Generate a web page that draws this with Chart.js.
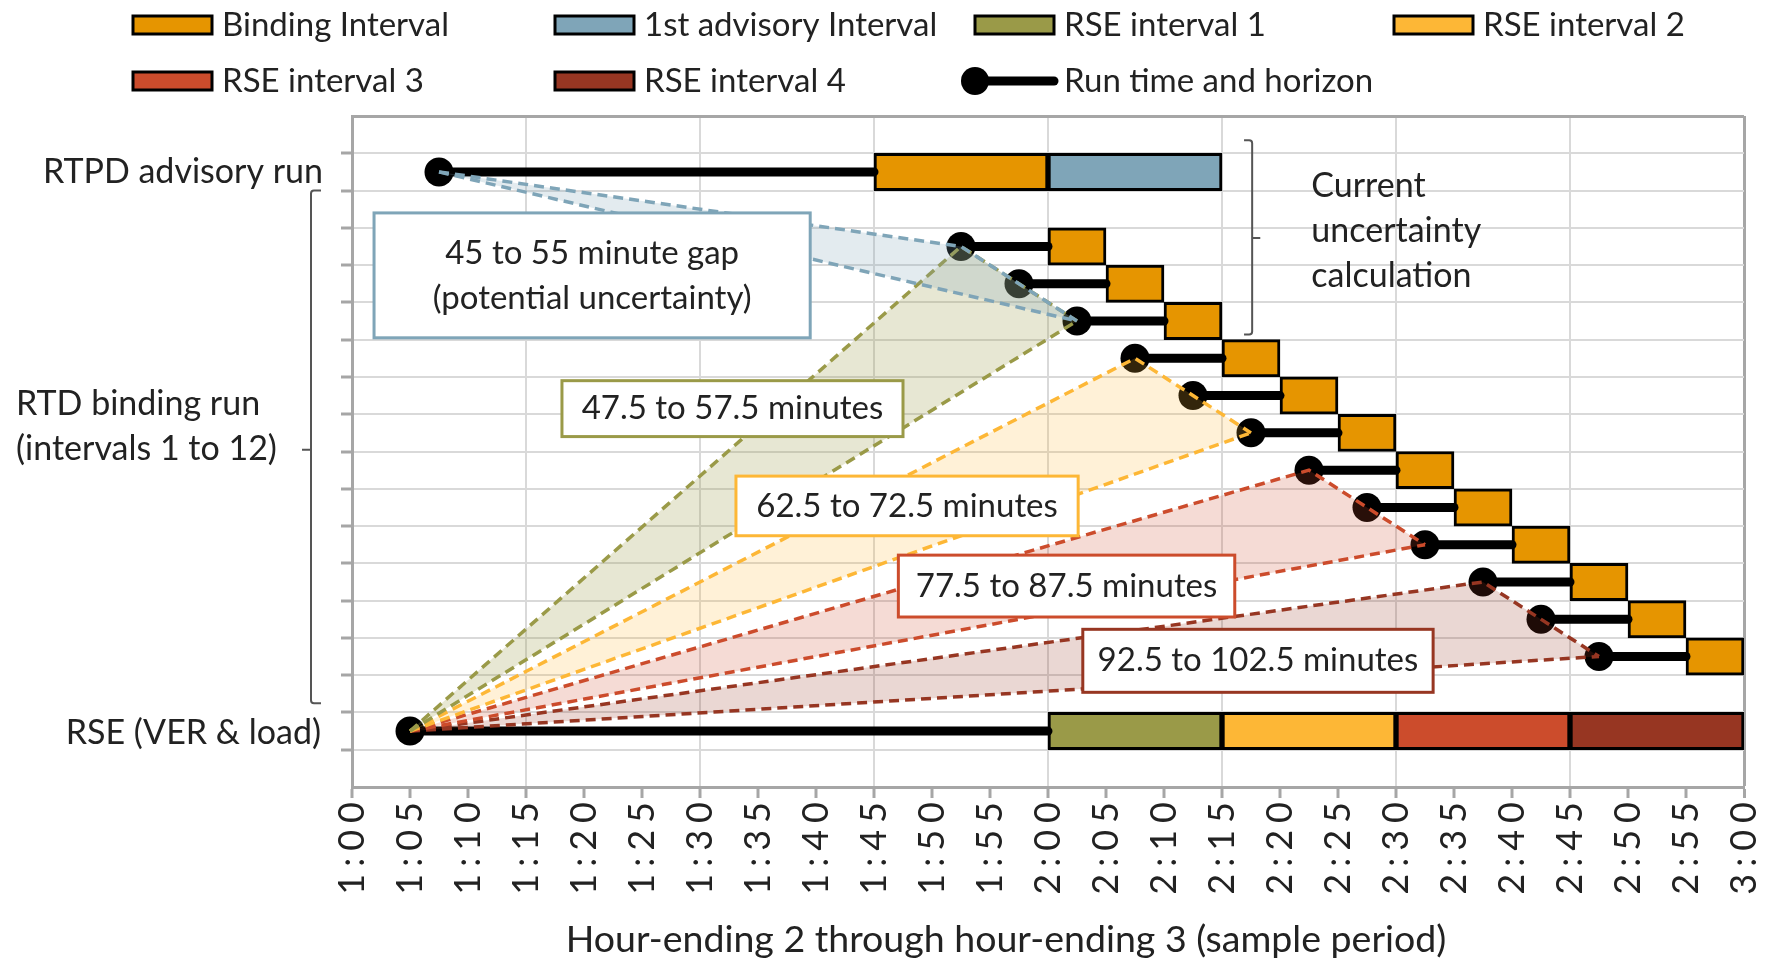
<!DOCTYPE html>
<html>
<head>
<meta charset="utf-8">
<title>RTD binding run and RSE uncertainty windows</title>
<script src="https://cdn.jsdelivr.net/npm/chart.js@4.4.1/dist/chart.umd.min.js"></script>
<style>
  html, body { margin: 0; padding: 0; background: #fff; }
  #wrap { position: relative; width: 1765px; height: 962px; }
</style>
</head>
<body>
<div id="wrap"><canvas id="chart"></canvas></div>
<script>
// x values: minutes after 1:00, y values: row positions (grid lines sit on whole numbers)
const tickLabels = ['1:00', '1:05', '1:10', '1:15', '1:20', '1:25', '1:30', '1:35', '1:40', '1:45', '1:50', '1:55',
  '2:00', '2:05', '2:10', '2:15', '2:20', '2:25', '2:30', '2:35', '2:40', '2:45', '2:50', '2:55', '3:00'];

const rtpdRow = 16.5;
const rseRow = 1.5;
const rtdRows = [14.5, 13.5, 12.5, 11.5, 10.5, 9.5, 8.5, 7.5, 6.5, 5.5, 4.5, 3.5];

const rtpdRun = [7.5, 45];
const rtpdBinding = [45, 60];
const rtpdAdvisory = [60, 75];

const rtdRunTimes = [52.5, 57.5, 62.5, 67.5, 72.5, 77.5, 82.5, 87.5, 92.5, 97.5, 102.5, 107.5];
const rtdBindingStart = [60, 65, 70, 75, 80, 85, 90, 95, 100, 105, 110, 115];
const rtdBindingEnd = [65, 70, 75, 80, 85, 90, 95, 100, 105, 110, 115, 120];

const rseRun = [5, 60];
const rseInterval1 = [60, 75];
const rseInterval2 = [75, 90];
const rseInterval3 = [90, 105];
const rseInterval4 = [105, 120];

// first and last RTD run covered by each window
const gapRuns = [0, 2];
const rseWindowRuns = [[0, 2], [3, 5], [6, 8], [9, 11]];

const seriesNames = ['Binding Interval', '1st advisory Interval', 'RSE interval 1', 'RSE interval 2',
  'RSE interval 3', 'RSE interval 4', 'Run time and horizon'];
const gapText = ['45 to 55 minute gap', '(potential uncertainty)'];
const windowTexts = ['47.5 to 57.5 minutes', '62.5 to 72.5 minutes', '77.5 to 87.5 minutes', '92.5 to 102.5 minutes'];
const noteText = ['Current', 'uncertainty', 'calculation'];
const rowLabels = ['RTPD advisory run', 'RTD binding run', '(intervals 1 to 12)', 'RSE (VER & load)'];
const xTitle = 'Hour-ending 2 through hour-ending 3 (sample period)';

// ---- styles / layout ----
const TEXT = '#222';
const C_BIND = '#E69500';
const C_ADV = '#7FA5B8';
const C_RSE = ['#9A9A48', '#FDB736', '#CC4C2C', '#973622'];
const C_RSE_FILL = ['rgba(154,154,72,0.24)', 'rgba(253,183,54,0.2)', 'rgba(204,76,44,0.2)', 'rgba(151,54,34,0.2)'];
const C_ADV_FILL = 'rgba(127,165,184,0.22)';

// annotation boxes in data units
const gapBox = { x0: 1.9, x1: 39.5, y0: 12.05, y1: 15.4 };
const windowBoxes = [
  { x0: 18.1, x1: 47.5, y0: 9.4, y1: 10.9 },
  { x0: 33.1, x1: 62.6, y0: 6.74, y1: 8.34 },
  { x0: 47.1, x1: 76.1, y0: 4.56, y1: 6.22 },
  { x0: 63.0, x1: 93.2, y0: 2.54, y1: 4.23 }
];

function barSet(label, bars, color) {
  return {
    type: 'bar', label: label, indexAxis: 'y', data: bars,
    backgroundColor: color, borderColor: '#000', borderWidth: 3, borderSkipped: false,
    grouped: false, barPercentage: 1, categoryPercentage: 1, order: 3
  };
}

function runSet(span, row) {
  return {
    type: 'line', data: [{ x: span[0], y: row }, { x: span[1], y: row }],
    borderColor: '#000', borderWidth: 9, borderCapStyle: 'round',
    pointRadius: [14.5, 0], pointBackgroundColor: '#000', pointBorderWidth: 0,
    pointHoverRadius: 0, fill: false, order: 2
  };
}

function windowSets(apex, near, far, color, fillColor) {
  const edge = { type: 'line', borderColor: color, borderWidth: 3.5, borderDash: [10, 6], pointRadius: 0, pointHoverRadius: 0, order: 1 };
  return [
    Object.assign({}, edge, { data: [apex, near, far], fill: '+1', backgroundColor: fillColor }),
    Object.assign({}, edge, { data: [apex, far], fill: false })
  ];
}

const runPoint = i => ({ x: rtdRunTimes[i], y: rtdRows[i] });
const rtpdApex = { x: rtpdRun[0], y: rtpdRow };
const rseApex = { x: rseRun[0], y: rseRow };

const datasets = [
  barSet('Binding Interval', [{ x: rtpdBinding, y: rtpdRow }].concat(
    rtdRows.map((r, i) => ({ x: [rtdBindingStart[i], rtdBindingEnd[i]], y: r }))), C_BIND),
  barSet('1st advisory Interval', [{ x: rtpdAdvisory, y: rtpdRow }], C_ADV),
  barSet('RSE interval 1', [{ x: rseInterval1, y: rseRow }], C_RSE[0]),
  barSet('RSE interval 2', [{ x: rseInterval2, y: rseRow }], C_RSE[1]),
  barSet('RSE interval 3', [{ x: rseInterval3, y: rseRow }], C_RSE[2]),
  barSet('RSE interval 4', [{ x: rseInterval4, y: rseRow }], C_RSE[3]),
  runSet(rtpdRun, rtpdRow),
  runSet(rseRun, rseRow)
];
rtdRows.forEach((r, i) => datasets.push(runSet([rtdRunTimes[i], rtdBindingStart[i]], r)));
windowSets(rtpdApex, runPoint(gapRuns[0]), runPoint(gapRuns[1]), C_ADV, C_ADV_FILL).forEach(d => datasets.push(d));
rseWindowRuns.forEach((w, k) => {
  windowSets(rseApex, runPoint(w[0]), runPoint(w[1]), C_RSE[k], C_RSE_FILL[k]).forEach(d => datasets.push(d));
});

// wide letter spacing for the rotated time labels only
const tickSpacing = {
  id: 'tickSpacing',
  beforeDraw(chart) { chart.ctx.letterSpacing = '7px'; },
  beforeDatasetsDraw(chart) { chart.ctx.letterSpacing = '0px'; }
};

function drawLegendBox(ctx, x, y, color) {
  ctx.fillStyle = color;
  ctx.fillRect(x, y - 9, 79, 18);
  ctx.strokeStyle = '#000';
  ctx.lineWidth = 3;
  ctx.strokeRect(x, y - 9, 79, 18);
}

const annotations = {
  id: 'annotations',
  afterDraw(chart) {
    const { ctx, chartArea: area } = chart;
    const px = v => chart.scales.x.getPixelForValue(v);
    const py = v => chart.scales.y.getPixelForValue(v);
    ctx.save();
    ctx.letterSpacing = '0px';
    ctx.textBaseline = 'middle';

    // text boxes
    ctx.font = '33px Lato';
    const boxes = [{ b: gapBox, lines: gapText, color: C_ADV }].concat(
      windowBoxes.map((b, i) => ({ b: b, lines: [windowTexts[i]], color: C_RSE[i] })));
    boxes.forEach(({ b, lines, color }) => {
      const l = px(b.x0), r = px(b.x1), t = py(b.y1), btm = py(b.y0);
      ctx.fillStyle = '#fff';
      ctx.fillRect(l, t, r - l, btm - t);
      ctx.strokeStyle = color;
      ctx.lineWidth = 3;
      ctx.strokeRect(l, t, r - l, btm - t);
      ctx.fillStyle = TEXT;
      ctx.textAlign = 'center';
      lines.forEach((s, i) => ctx.fillText(s, (l + r) / 2, (t + btm) / 2 + (i - (lines.length - 1) / 2) * 45));
    });

    // brace for current uncertainty calculation
    ctx.strokeStyle = '#555';
    ctx.lineWidth = 2;
    const bx = px(77.6), bt = py(17.35), bb = py(12.14), bm = py(14.73);
    ctx.beginPath();
    ctx.moveTo(px(76.9), bt); ctx.lineTo(bx - 3, bt); ctx.quadraticCurveTo(bx, bt, bx, bt + 3);
    ctx.lineTo(bx, bb - 3); ctx.quadraticCurveTo(bx, bb, bx - 3, bb); ctx.lineTo(px(76.9), bb);
    ctx.moveTo(bx, bm); ctx.lineTo(px(78.3), bm);
    ctx.stroke();
    ctx.font = '34px Lato';
    ctx.fillStyle = TEXT;
    ctx.textAlign = 'left';
    noteText.forEach((s, i) => ctx.fillText(s, px(82.7), 186 + i * 45));

    // bracket for the RTD binding rows
    const lx = area.left - 41, lt = py(16), lb = py(2.25), lm = py(9.05);
    ctx.beginPath();
    ctx.moveTo(lx + 10, lt); ctx.lineTo(lx + 3, lt); ctx.quadraticCurveTo(lx, lt, lx, lt + 3);
    ctx.lineTo(lx, lb - 3); ctx.quadraticCurveTo(lx, lb, lx + 3, lb); ctx.lineTo(lx + 10, lb);
    ctx.moveTo(lx, lm); ctx.lineTo(lx - 9, lm);
    ctx.stroke();

    // row labels
    ctx.textAlign = 'right';
    ctx.fillText(rowLabels[0], area.left - 29, py(rtpdRow));
    ctx.fillText(rowLabels[3], area.left - 31, py(rseRow - 0.05));
    ctx.textAlign = 'left';
    ctx.fillText(rowLabels[1], 16, py(10.27));
    ctx.fillText(rowLabels[2], 16, py(9.06));

    // axis title
    ctx.font = '37.5px Lato';
    ctx.textAlign = 'center';
    ctx.fillText(xTitle, 1006, 940);

    // legend, two rows on four columns
    const cols = [133, 555, 975, 1394], rows = [25, 81];
    const swatches = [C_BIND, C_ADV, C_RSE[0], C_RSE[1], C_RSE[2], C_RSE[3]];
    ctx.font = '33px Lato';
    ctx.textAlign = 'left';
    seriesNames.forEach((name, i) => {
      const x = cols[i % 4], y = rows[Math.floor(i / 4)];
      if (i < swatches.length) {
        drawLegendBox(ctx, x, y, swatches[i]);
      } else {
        ctx.strokeStyle = '#000';
        ctx.lineWidth = 9;
        ctx.lineCap = 'round';
        ctx.beginPath(); ctx.moveTo(x, y); ctx.lineTo(x + 79, y); ctx.stroke();
        ctx.fillStyle = '#000';
        ctx.beginPath(); ctx.arc(x, y, 14, 0, Math.PI * 2); ctx.fill();
      }
      ctx.fillStyle = TEXT;
      ctx.fillText(name, x + 89, y);
    });
    ctx.restore();
  }
};

Chart.defaults.font.family = 'Lato';

new Chart(document.getElementById('chart'), {
  type: 'line',
  data: { datasets: datasets },
  options: {
    responsive: true,
    maintainAspectRatio: false,
    animation: false,
    events: [],
    layout: { padding: { top: 116, right: 21, bottom: 0, left: 0 } },
    plugins: { legend: { display: false }, tooltip: { enabled: false } },
    scales: {
      x: {
        type: 'linear', min: 0, max: 120,
        ticks: {
          stepSize: 5, autoSkip: false, minRotation: 90, maxRotation: 90,
          padding: -3, color: TEXT, font: { size: 36 },
          callback: (v, i) => tickLabels[i]
        },
        grid: {
          color: c => c.tick.value === 120 ? '#A6A6A6' : (c.tick.value % 15 === 0 ? '#D9D9D9' : 'rgba(0,0,0,0)'),
          lineWidth: c => c.tick.value === 120 ? 3 : 2,
          tickColor: '#A6A6A6', tickWidth: 3, tickLength: 11
        },
        border: { color: '#A6A6A6', width: 3 },
        afterFit: s => { s.height = 175; s.paddingLeft = 0; s.paddingRight = 0; }
      },
      y: {
        type: 'linear', min: 0, max: 18, offset: false,
        ticks: { stepSize: 1, display: false },
        grid: {
          offset: false,
          color: c => c.tick.value === 18 ? '#A6A6A6' : '#D9D9D9',
          lineWidth: c => c.tick.value === 18 ? 3 : 2,
          tickColor: c => (c.tick.value === 0 || c.tick.value === 18) ? 'rgba(0,0,0,0)' : '#A6A6A6',
          tickWidth: 3, tickLength: 11
        },
        border: { color: '#A6A6A6', width: 3 },
        afterFit: s => { s.width = 352; }
      }
    }
  },
  plugins: [tickSpacing, annotations]
});
</script>
</body>
</html>
